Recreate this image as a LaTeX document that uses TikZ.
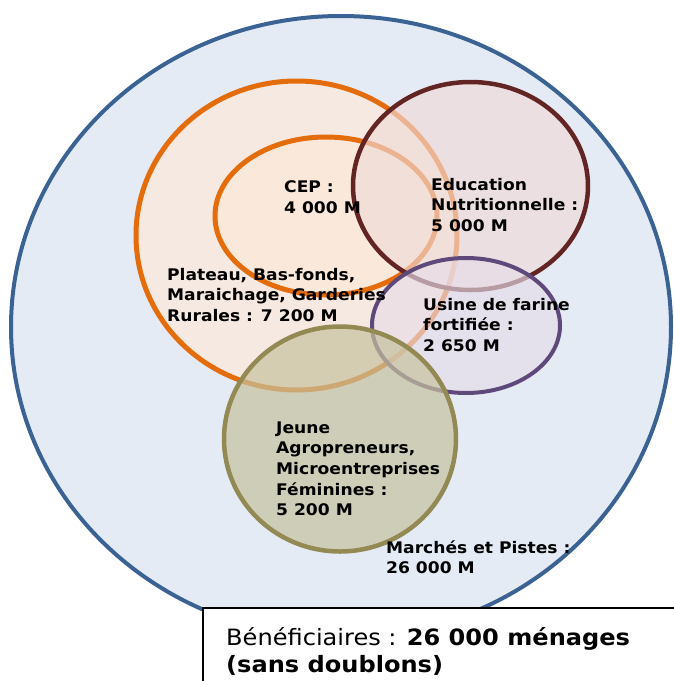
\documentclass[tikz,border=0pt]{standalone}
\usepackage{fontspec}
\newfontfamily\lbl[FakeStretch=1.07]{DejaVu Sans}
\definecolor{bigfill}{HTML}{E4EBF5}
\definecolor{bigline}{HTML}{3A6394}
\definecolor{orline}{HTML}{E46C0A}
\definecolor{orfill}{HTML}{F6E9E1}
\definecolor{cepfill}{HTML}{FAE9DB}
\definecolor{eduline}{HTML}{632523}
\definecolor{edufill}{HTML}{EFDAD7}
\definecolor{usline}{HTML}{5F497A}
\definecolor{usfill}{HTML}{E7DCE8}
\definecolor{jline}{HTML}{938953}
\definecolor{jfill}{HTML}{C6C29F}
\tikzset{
  lab/.style={anchor=base west, inner sep=0pt, align=left, text=black,
    font=\lbl\bfseries\fontsize{16}{20.6}\selectfont},
  boxlab/.style={anchor=base west, inner sep=0pt, align=left, text=black,
    font=\lbl\fontsize{22.5}{27}\selectfont},
}
\begin{document}
\begin{tikzpicture}[x=1pt,y=-1pt]
\useasboundingbox (0,0) rectangle (673,681);
\fill[white] (0,0) rectangle (673,681);
% big circle
\draw[bigline, line width=4pt, fill=bigfill] (341,327) ellipse [x radius=330pt, y radius=311pt];
% plateau
\draw[orline, line width=5pt, fill=orfill] (296.5,235.5) ellipse [x radius=160.5pt, y radius=154.5pt];
% CEP
\draw[orline, line width=5pt, fill=cepfill] (326,216) ellipse [x radius=111pt, y radius=79pt];
% Education
\draw[eduline, line width=4.5pt, fill=edufill, fill opacity=0.65] (470.5,186) ellipse [x radius=117.5pt, y radius=104pt];
% Usine
\draw[usline, line width=4pt, fill=usfill, fill opacity=0.65] (466,325.5) ellipse [x radius=94pt, y radius=67.5pt];
% Jeune
\draw[jline, line width=4.5pt, fill=jfill, fill opacity=0.7] (340,439) ellipse [x radius=116pt, y radius=112.5pt];
% box
\draw[black, line width=1.6pt, fill=white] (203,608) rectangle (690,700);
% labels (anchored at the baseline of the last line)
\node[lab] (cep) at (284,213.3) {CEP :\\4 000 M};
\node[lab] (plateau) at (167,321.2) {Plateau, Bas-fonds,\\Maraichage, Garderies\\Rurales : 7 200 M};
\node[lab] (edu) at (431,231.2) {Education\\Nutritionnelle :\\5 000 M};
\node[lab] (usine) at (423,351.2) {Usine de farine\\fortifiée :\\2 650 M};
\node[lab] (jeune) at (276,515.7) {Jeune\\Agropreneurs,\\Microentreprises\\Féminines :\\5 200 M};
\node[lab] (marches) at (386,573.9) {Marchés et Pistes :\\26 000 M};
\node[boxlab] (benef) at (226,672) {Bénéficiaires : \textbf{26 000 ménages}\\\textbf{(sans doublons)}};
\end{tikzpicture}
\end{document}
